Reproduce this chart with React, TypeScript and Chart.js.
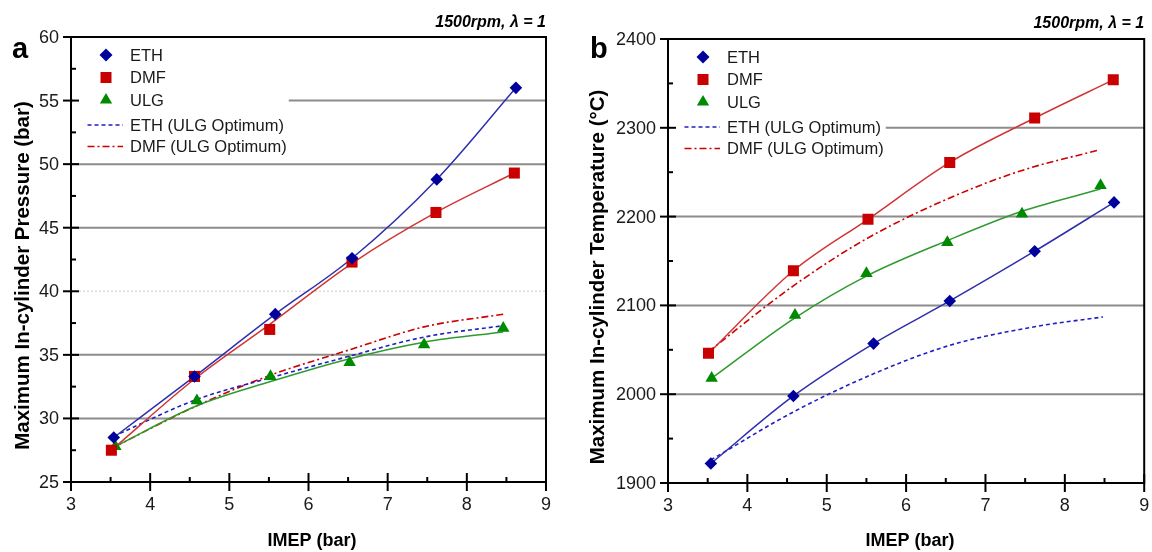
import React, { useEffect, useRef } from "react";
import { Chart, registerables } from "chart.js";
Chart.register(...registerables);

const FONT = '"Liberation Sans", Arial, "Helvetica", sans-serif';

// ---------- Panel a: Maximum in-cylinder pressure ----------
const ethImepA = [3.54, 4.56, 5.58, 6.55, 7.62, 8.62];
const ethPressure = [28.5, 33.3, 38.2, 42.6, 48.8, 56.0];
const dmfImepA = [3.51, 4.56, 5.51, 6.55, 7.61, 8.6];
const dmfPressure = [27.5, 33.3, 37.0, 42.3, 46.2, 49.3];
const dmfPressureFit = [27.5, 33.1, 37.4, 42.2, 46.2, 49.3];
const ulgImepA = [3.56, 4.59, 5.52, 6.52, 7.46, 8.46];
const ulgPressure = [27.8, 31.4, 33.3, 34.4, 35.8, 37.1];
const ulgPressureFit = [27.8, 31.0, 32.9, 34.7, 36.0, 36.8];
const ethOptImepA = [3.54, 4.59, 5.52, 6.52, 7.46, 8.46];
const ethOptPressure = [28.6, 31.5, 33.2, 34.9, 36.4, 37.3];
const dmfOptImepA = [3.56, 4.59, 5.52, 6.52, 7.46, 8.46];
const dmfOptPressure = [27.8, 31.0, 33.4, 35.4, 37.2, 38.2];

// ---------- Panel b: Maximum in-cylinder temperature ----------
const ethImepB = [3.54, 4.58, 5.59, 6.55, 7.62, 8.62];
const ethTemp = [1922, 1998, 2057, 2105, 2161, 2216];
const dmfImepB = [3.51, 4.58, 5.52, 6.55, 7.62, 8.61];
const dmfTemp = [2046, 2139, 2197, 2261, 2311, 2354];
const ulgImepB = [3.55, 4.6, 5.5, 6.52, 7.46, 8.45];
const ulgTemp = [2018, 2089, 2136, 2171, 2203, 2235];
const ulgTempFit = [2018, 2086, 2133, 2173, 2206, 2231];
const ethOptImepB = [3.54, 4.58, 5.59, 6.55, 7.62, 8.48];
const ethOptTemp = [1926, 1980, 2023, 2055, 2076, 2087];
const dmfOptImepB = [3.51, 4.58, 5.5, 6.55, 7.46, 8.43];
const dmfOptTemp = [2048, 2122, 2175, 2221, 2252, 2275];

// ---------- Axes ----------
const xTicks = [3, 4, 5, 6, 7, 8, 9];
const xMinorTicks = [3.5, 4.5, 5.5, 6.5, 7.5, 8.5];
const yTicksA = [25, 30, 35, 40, 45, 50, 55, 60];
const yMinorA = [27.5, 32.5, 37.5, 42.5, 47.5, 52.5, 57.5];
const gridA = [30, 35, 45, 50, 55];
const faintGridA = [40];
const yTicksB = [1900, 2000, 2100, 2200, 2300, 2400];
const yMinorB = [1950, 2050, 2150, 2250, 2350];
const gridB = [2000, 2100, 2200, 2300];

const legendLabels = ["ETH", "DMF", "ULG", "ETH (ULG Optimum)", "DMF (ULG Optimum)"];
const xTitle = "IMEP (bar)";
const yTitleA = "Maximum In-cylinder Pressure (bar)";
const yTitleB = "Maximum In-cylinder Temperature (°C)";
const condition = "1500rpm, λ = 1";

const STYLES = [
  { marker: "rectRot", color: "#00009c", line: "#2f2fae", dash: [] as number[] },
  { marker: "rect", color: "#c80000", line: "#d03636", dash: [] as number[] },
  { marker: "triangle", color: "#008a00", line: "#2f9a2f", dash: [] as number[] },
  { marker: "", color: "#1f1fc4", line: "#1f1fc4", dash: [4, 3] },
  { marker: "", color: "#cc0000", line: "#cc0000", dash: [7, 3, 2, 3] },
];

const MARKER_R: Record<string, number> = { rectRot: 6.3, rect: 7.8, triangle: 7.2 };

function drawMarker(ctx: CanvasRenderingContext2D, style: string, x: number, y: number, color: string) {
  ctx.fillStyle = color;
  ctx.beginPath();
  if (style === "rectRot") {
    const r = 6.5;
    ctx.moveTo(x, y - r);
    ctx.lineTo(x + r, y);
    ctx.lineTo(x, y + r);
    ctx.lineTo(x - r, y);
  } else if (style === "rect") {
    const s = 5.5;
    ctx.rect(x - s, y - s, 2 * s, 2 * s);
  } else {
    const r = 7.1;
    ctx.moveTo(x, y - r);
    ctx.lineTo(x + r * 0.866, y + r * 0.5);
    ctx.lineTo(x - r * 0.866, y + r * 0.5);
  }
  ctx.closePath();
  ctx.fill();
}

type Series = { xs: number[]; ys: number[]; fit?: number[] };

type PanelCfg = {
  letter: string;
  yTitle: string;
  yTicks: number[];
  yMinor: number[];
  grid: number[];
  faint: number[];
  series: Series[];
  padTop: number;
  padRight: number;
  axisWidth: number;
  axisHeight: number;
  yTitleX: number;
  xTitleX: number;
  letterX: number;
  condBaseline: number;
};

function makePlugin(cfg: PanelCfg) {
  return {
    id: "panelDecor",
    beforeDatasetsDraw(chart: any) {
      const { ctx, chartArea: ca, scales } = chart;
      const y = scales.y;
      ctx.save();
      ctx.lineWidth = 2;
      ctx.strokeStyle = "#8c8c8c";
      for (const v of cfg.grid) {
        const py = y.getPixelForValue(v);
        ctx.beginPath();
        ctx.moveTo(ca.left, py);
        ctx.lineTo(ca.right, py);
        ctx.stroke();
      }
      ctx.strokeStyle = "#dcdcdc";
      ctx.lineWidth = 1.5;
      ctx.setLineDash([2, 2]);
      for (const v of cfg.faint) {
        const py = y.getPixelForValue(v);
        ctx.beginPath();
        ctx.moveTo(ca.left, py);
        ctx.lineTo(ca.right, py);
        ctx.stroke();
      }
      ctx.setLineDash([]);
      // legend box (opaque)
      ctx.font = `16.5px ${FONT}`;
      let maxW = 0;
      for (const l of legendLabels) maxW = Math.max(maxW, ctx.measureText(l).width);
      const textX = ca.left + 59;
      ctx.fillStyle = "#ffffff";
      ctx.fillRect(ca.left + 2, ca.top + 2, textX + maxW + 2 - (ca.left + 2), 120);
      const rows = [18, 40.5, 63, 88, 109.5];
      legendLabels.forEach((lab, i) => {
        const st = STYLES[i];
        const ry = ca.top + rows[i];
        if (st.marker) {
          drawMarker(ctx, st.marker, ca.left + 35, ry, st.color);
        } else {
          ctx.strokeStyle = st.line;
          ctx.lineWidth = 1.6;
          ctx.setLineDash(st.dash);
          ctx.beginPath();
          ctx.moveTo(ca.left + 16.5, ry);
          ctx.lineTo(ca.left + 52, ry);
          ctx.stroke();
          ctx.setLineDash([]);
        }
        ctx.fillStyle = "#1a1a1a";
        ctx.textAlign = "left";
        ctx.textBaseline = "middle";
        ctx.fillText(lab, textX, ry + 1);
      });
      ctx.restore();
    },
    afterDraw(chart: any) {
      const { ctx, chartArea: ca, scales } = chart;
      const x = scales.x;
      const y = scales.y;
      ctx.save();
      ctx.strokeStyle = "#000";
      ctx.lineWidth = 2;
      ctx.strokeRect(ca.left, ca.top, ca.right - ca.left, ca.bottom - ca.top);
      for (const v of cfg.yTicks) {
        const py = y.getPixelForValue(v);
        ctx.beginPath();
        ctx.moveTo(ca.left - 8, py);
        ctx.lineTo(ca.left + 8, py);
        ctx.stroke();
      }
      for (const v of cfg.yMinor) {
        const py = y.getPixelForValue(v);
        ctx.beginPath();
        ctx.moveTo(ca.left, py);
        ctx.lineTo(ca.left + 5, py);
        ctx.stroke();
      }
      for (const v of xTicks) {
        const px = x.getPixelForValue(v);
        ctx.beginPath();
        ctx.moveTo(px, ca.bottom - 9);
        ctx.lineTo(px, ca.bottom + 9);
        ctx.stroke();
      }
      for (const v of xMinorTicks) {
        const px = x.getPixelForValue(v);
        ctx.beginPath();
        ctx.moveTo(px, ca.bottom - 5);
        ctx.lineTo(px, ca.bottom);
        ctx.stroke();
      }
      // tick labels
      ctx.fillStyle = "#1a1a1a";
      ctx.font = `18px ${FONT}`;
      ctx.textAlign = "right";
      ctx.textBaseline = "middle";
      for (const v of cfg.yTicks) {
        ctx.fillText(String(v), ca.left - 12, y.getPixelForValue(v) + 1);
      }
      ctx.textAlign = "center";
      for (const v of xTicks) {
        ctx.fillText(String(v), x.getPixelForValue(v), ca.bottom + 23);
      }
      // axis titles
      ctx.fillStyle = "#000";
      ctx.font = `bold 18px ${FONT}`;
      ctx.fillText(xTitle, cfg.xTitleX, 541);
      ctx.save();
      ctx.font = `bold 20.5px ${FONT}`;
      ctx.translate(cfg.yTitleX, (ca.top + ca.bottom) / 2 + 16);
      ctx.rotate(-Math.PI / 2);
      ctx.fillText(cfg.yTitle, 0, 0);
      ctx.restore();
      // panel letter
      ctx.font = `bold 29px ${FONT}`;
      ctx.textAlign = "left";
      ctx.textBaseline = "alphabetic";
      ctx.fillText(cfg.letter, cfg.letterX, 58);
      // condition
      ctx.font = `italic bold 16px ${FONT}`;
      ctx.textAlign = "right";
      ctx.fillText(condition, ca.right, cfg.condBaseline);
      ctx.restore();
    },
  };
}

function buildChart(canvas: HTMLCanvasElement, cfg: PanelCfg, yMin: number, yMax: number) {
  const datasets: any[] = [];
  // markers first (drawn on top)
  cfg.series.forEach((s, i) => {
    const st = STYLES[i];
    if (!st.marker) return;
    datasets.push({
      label: legendLabels[i],
      data: s.xs.map((xv, j) => ({ x: xv, y: s.ys[j] })),
      showLine: false,
      pointStyle: st.marker,
      pointRadius: MARKER_R[st.marker],
      pointHoverRadius: MARKER_R[st.marker],
      pointBackgroundColor: st.color,
      pointBorderColor: st.color,
      pointBorderWidth: 0,
    });
  });
  // lines (solid fits, dashed optimum curves)
  cfg.series.forEach((s, i) => {
    const st = STYLES[i];
    const ys = s.fit || s.ys;
    datasets.push({
      label: legendLabels[i] + " line",
      data: s.xs.map((xv, j) => ({ x: xv, y: ys[j] })),
      showLine: true,
      borderColor: st.line,
      borderWidth: st.marker ? 1.5 : 1.6,
      borderDash: st.dash,
      pointRadius: 0,
      pointHoverRadius: 0,
      tension: 0.4,
      cubicInterpolationMode: "monotone",
      fill: false,
    });
  });
  return new Chart(canvas, {
    type: "scatter",
    data: { datasets },
    options: {
      responsive: false,
      animation: false,
      devicePixelRatio: 1,
      layout: { padding: { top: cfg.padTop, right: cfg.padRight, left: 0, bottom: 0 } },
      plugins: { legend: { display: false }, tooltip: { enabled: false } },
      scales: {
        x: {
          type: "linear",
          min: 3,
          max: 9,
          grid: { display: false },
          border: { display: false },
          ticks: { display: false },
          afterFit: (s: any) => {
            s.height = cfg.axisHeight;
          },
        },
        y: {
          type: "linear",
          min: yMin,
          max: yMax,
          grid: { display: false },
          border: { display: false },
          ticks: { display: false },
          afterFit: (s: any) => {
            s.width = cfg.axisWidth;
          },
        },
      },
    },
    plugins: [makePlugin(cfg)],
  } as any);
}

export default function App() {
  const refA = useRef<HTMLCanvasElement>(null);
  const refB = useRef<HTMLCanvasElement>(null);

  useEffect(() => {
    const cfgA: PanelCfg = {
      letter: "a",
      yTitle: yTitleA,
      yTicks: yTicksA,
      yMinor: yMinorA,
      grid: gridA,
      faint: faintGridA,
      series: [
        { xs: ethImepA, ys: ethPressure },
        { xs: dmfImepA, ys: dmfPressure, fit: dmfPressureFit },
        { xs: ulgImepA, ys: ulgPressure, fit: ulgPressureFit },
        { xs: ethOptImepA, ys: ethOptPressure },
        { xs: dmfOptImepA, ys: dmfOptPressure },
      ],
      padTop: 37,
      padRight: 30,
      axisWidth: 71,
      axisHeight: 70,
      yTitleX: 23,
      xTitleX: 312,
      letterX: 12,
      condBaseline: 27,
    };
    const cfgB: PanelCfg = {
      letter: "b",
      yTitle: yTitleB,
      yTicks: yTicksB,
      yMinor: yMinorB,
      grid: gridB,
      faint: [],
      series: [
        { xs: ethImepB, ys: ethTemp },
        { xs: dmfImepB, ys: dmfTemp },
        { xs: ulgImepB, ys: ulgTemp, fit: ulgTempFit },
        { xs: ethOptImepB, ys: ethOptTemp },
        { xs: dmfOptImepB, ys: dmfOptTemp },
      ],
      padTop: 39,
      padRight: 7,
      axisWidth: 92,
      axisHeight: 69,
      yTitleX: 598 - 576,
      xTitleX: 910 - 576,
      letterX: 590 - 576,
      condBaseline: 28,
    };
    const a = buildChart(refA.current!, cfgA, 25, 60);
    const b = buildChart(refB.current!, cfgB, 1900, 2400);
    return () => {
      a.destroy();
      b.destroy();
    };
  }, []);

  return (
    <div style={{ position: "absolute", left: 0, top: 0, width: 1152, height: 552, background: "#fff" }}>
      <canvas ref={refA} width={576} height={552} style={{ position: "absolute", left: 0, top: 0 }} />
      <canvas ref={refB} width={576} height={552} style={{ position: "absolute", left: 576, top: 0 }} />
    </div>
  );
}
